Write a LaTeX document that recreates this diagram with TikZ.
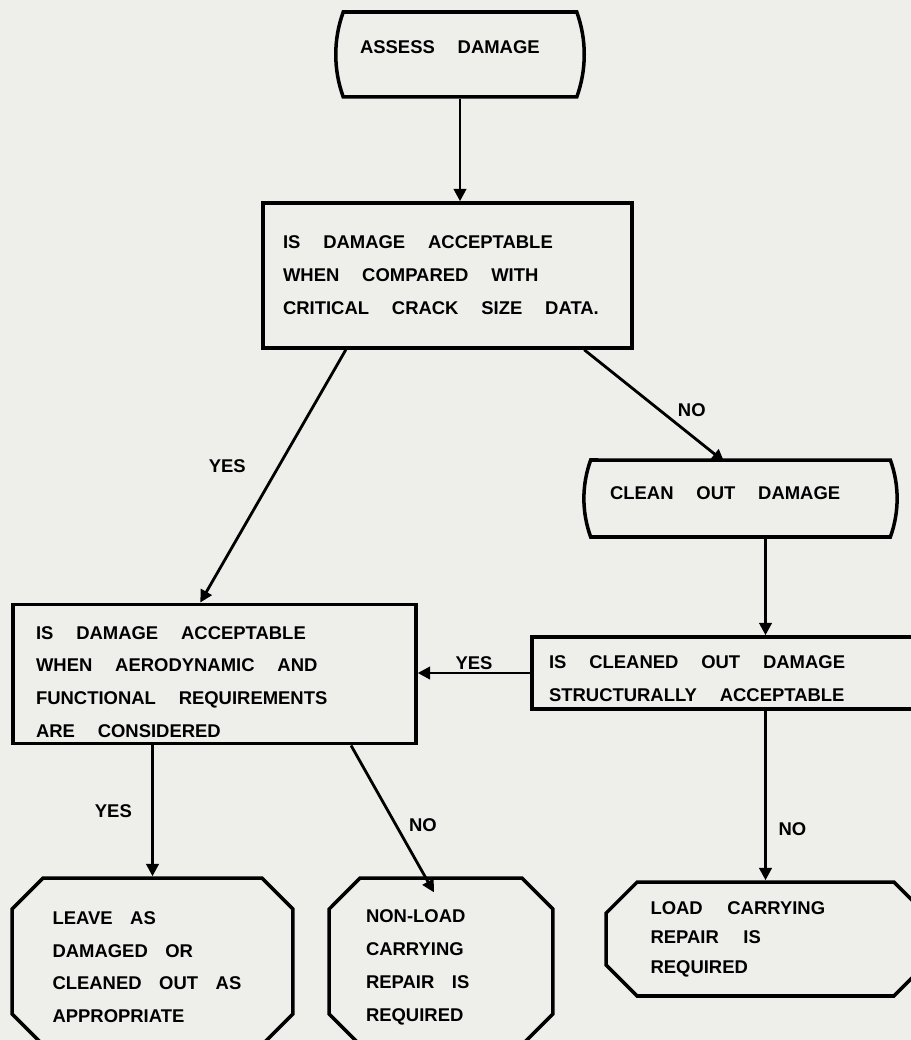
\documentclass[tikz,border=0pt]{standalone}
\usepackage{fontspec}
\setmainfont{Liberation Sans}
\usetikzlibrary{arrows.meta,shapes.misc,calc}
\definecolor{paper}{RGB}{238,238,235}

\tikzset{
  box/.style={draw, line width=2pt, align=left,
    font=\fontsize{10.5}{18.7}\selectfont\bfseries,
    execute at begin node={\spaceskip=#1\relax}},
  box/.default=13pt,
  terminal/.style={box, rounded rectangle, rounded rectangle arc length=40, text depth=0.3cm},
  decision/.style={box, rectangle},
  outcome/.style={box=#1, chamfered rectangle, chamfered rectangle xsep=0.5cm},
  outcome/.default=10pt,
  flow/.style={line width=1.6pt, -{Triangle[length=7pt,width=7pt]}},
  answer/.style={font=\fontsize{10.5}{12}\selectfont\bfseries, inner sep=1pt}
}

\begin{document}
\begin{tikzpicture}[x=0.02cm, y=-0.02cm]
  \clip (0,0) rectangle (911,1040);
  \fill[paper] (0,0) rectangle (911,1040);

  % Nodes
  \node[terminal, text width=4cm, minimum width=5cm, minimum height=1.7cm] (Assess) at (460,54.5) {ASSESS DAMAGE};
  \node[decision, text width=6.58cm, inner xsep=0.4cm, minimum height=2.9cm] (Check1) at (447.5,275.5)
    {IS DAMAGE ACCEPTABLE\\ WHEN COMPARED WITH\\ CRITICAL CRACK SIZE DATA.};
  \node[terminal, text width=5.22cm, text depth=0.2cm, minimum width=6.5cm, minimum height=1.54cm] (Clean) at (740.5,498.5)
    {CLEAN OUT DAMAGE};
  \node[decision, text width=7.14cm, inner xsep=0.46cm, minimum height=2.76cm] (Check2) at (214.5,674)
    {\rule{0pt}{16.5pt}IS DAMAGE ACCEPTABLE\\ WHEN AERODYNAMIC AND\\ FUNCTIONAL REQUIREMENTS\\ ARE CONSIDERED};
  \node[decision, text width=7.18cm, inner xsep=0.34cm, minimum height=1.44cm] (Check3) at (728.5,673)
    {\rule{0pt}{13.7pt}IS CLEANED OUT DAMAGE\\ STRUCTURALLY ACCEPTABLE};
  \node[outcome, text width=4cm, minimum width=5.62cm, minimum height=3.34cm] (Leave) at (152.5,961.5)
    {\rule{0pt}{13.7pt}LEAVE AS\\ DAMAGED OR\\ CLEANED OUT AS\\ APPROPRIATE};
  \node[outcome, text width=3cm, minimum width=4.48cm, minimum height=3.34cm] (NonLoad) at (441,961.5)
    {\rule{0pt}{13.7pt}NON-LOAD\\ CARRYING\\ REPAIR IS\\ REQUIRED};
  \node[outcome=14pt, text width=4.6cm, minimum width=6.38cm, minimum height=2.28cm,
    font=\fontsize{10.5}{16.8}\selectfont\bfseries] (Load) at (765.5,939)
    {LOAD CARRYING\\ REPAIR IS\\ REQUIRED};

  % Arrows
  \draw[flow] (Assess.south) -- (Assess.south |- Check1.north);
  \draw[flow] ($(Check1.south west)!0.227!(Check1.south east)$) --
    node[answer, pos=0.46, left=0.6cm] {YES} ($(Check2.north west)!0.465!(Check2.north east)$);
  \draw[flow] ($(Check1.south west)!0.867!(Check1.south east)$) --
    node[answer, pos=0.54, right=0.3cm] {NO} ($(Clean.south west)!0.446!(Clean.south east) - (0,77)$);
  \draw[flow] (Load.north |- Clean.south) -- (Load.north |- Check3.north);
  \draw[flow] (Check3.west) -- node[answer, above] {YES} (Check2.east |- Check3.west);
  \draw[flow] (Leave.north |- Check2.south) -- node[answer, left=0.35cm] {YES} (Leave.north);
  \draw[flow] ($(Check2.south west)!0.836!(Check2.south east)$) --
    node[answer, pos=0.54, right=0.2cm] {NO} ($(NonLoad.north west)!0.464!(NonLoad.north east)$);
  \draw[flow] (Check3.south -| Load.north) -- node[answer, pos=0.7, right=0.2cm] {NO} (Load.north);
\end{tikzpicture}
\end{document}
